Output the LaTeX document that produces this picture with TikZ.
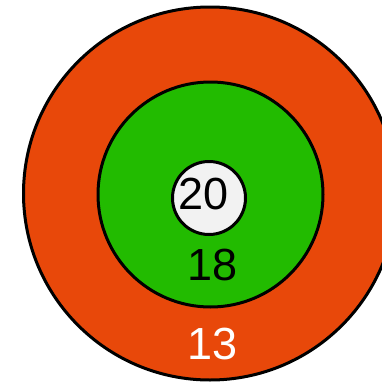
\documentclass[tikz,border=0pt]{standalone}
\usepackage{fontspec}
\setmainfont{Liberation Sans}
\usetikzlibrary{positioning}
\definecolor{tgOrange}{HTML}{E8480A}
\definecolor{tgGreen}{HTML}{22BB00}
\definecolor{tgWhite}{HTML}{F2F2F2}

\begin{document}
\begin{tikzpicture}[x=1pt, y=-1pt,
  ring/.style={circle, draw=black, line width=3pt, inner sep=0pt},
  score/.style={font=\fontsize{45}{45}\selectfont, inner sep=0pt}
]
  \useasboundingbox (0,0) rectangle (382,383);
  \clip (0,0) rectangle (382,383);
  % rings
  \node[ring, fill=tgOrange, minimum size=373pt] (outer) at (210,193.5) {};
  \node[ring, fill=tgGreen, minimum size=225pt] (middle) at (210.5,194.5) {};
  \node[ring, fill=tgWhite, minimum size=73pt] (inner) at (209,198) {};
  % scores
  \node[score] (s20) at (204,194) {20};
  \node[score] (s18) at (213,265) {18};
  \node[score, text=white] (s13) at (213,344) {13};
\end{tikzpicture}
\end{document}
